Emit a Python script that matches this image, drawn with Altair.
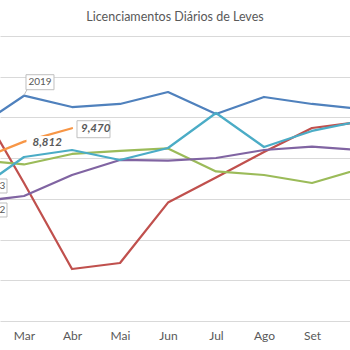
import altair as alt
import pandas as pd

FONT = "Lato"
TITLE = "Licenciamentos Diários de Leves"

month_names = ["Jan", "Fev", "Mar", "Abr", "Mai", "Jun", "Jul", "Ago", "Set", "Out", "Nov", "Dez"]
month_idx = [2, 3, 4, 5, 6, 7, 8, 9, 10]  # Fev .. Out
years = ["2019", "2020", "2021", "2022", "2023", "2024"]
colors = ["#4F81BD", "#C0504D", "#9BBB59", "#8064A2", "#4BACC6", "#F79646"]

v2019 = [9481, 11067, 10512, 10660, 11249, 10168, 11004, 10660, 10414]
v2020 = [10856, 6779, 2554, 2849, 5816, 7054, 8302, 9481, 9775]
v2021 = [7909, 7688, 8204, 8351, 8474, 7344, 7172, 6779, 7467]
v2022 = [5846, 6140, 7172, 7909, 7875, 8007, 8400, 8562, 8400]
v2023 = [6386, 8056, 8400, 7909, 8498, 10218, 8547, 9335, 9825]
v2024 = [7860, 8812, 9470]

series = [v2019, v2020, v2021, v2022, v2023, v2024]
rows = []
for yr, vals in zip(years, series):
    for m, v in zip(month_idx, vals):
        rows.append({"year": yr, "m": m, "v": v})
df = pd.DataFrame(rows)

x_scale = alt.Scale(domain=[2.5, 9.7917], nice=False, zero=False)
y_scale = alt.Scale(domain=[0, 14000], nice=False, zero=True)

label_expr = "[" + ",".join("'%s'" % s for s in month_names) + "][datum.value - 1]"

lines = alt.Chart(df).mark_line(clip=True, strokeJoin="round", strokeCap="round").encode(
    x=alt.X("m:Q", scale=x_scale,
            axis=alt.Axis(values=[3, 4, 5, 6, 7, 8, 9], labelExpr=label_expr, grid=False,
                          ticks=False, domain=False, title=None, labelFont=FONT,
                          labelFontSize=12, labelColor="#595959", labelPadding=9)),
    y=alt.Y("v:Q", scale=y_scale,
            axis=alt.Axis(values=list(range(0, 14001, 2000)), grid=True, gridColor="#D9D9D9",
                          gridWidth=1, labels=False, ticks=False, domain=False, title=None)),
    color=alt.Color("year:N", scale=alt.Scale(domain=years, range=colors), legend=None),
    strokeWidth=alt.StrokeWidth("year:N", scale=alt.Scale(domain=years, range=[2.25] * 5 + [3.25]),
                                legend=None),
)

# annotations: (year, month, value, text, box path, box stroke, align, dx, dy, size, weight, style, color)
annotations = [
    ("2019", 3, v2019[1], "2019", "M2,-21L30,-21L30,-6L2,-6Z M3,-6L0,-0.5", "#BFBFBF",
     "center", 16, -13.5, 10, "normal", "normal", "#595959"),
    ("2023", 2, v2023[0], "2023", "M1,-12L31,-12L31,2L1,2Z", "#BFBFBF",
     "right", 29.3, -5, 10, "normal", "normal", "#595959"),
    ("2022", 2, v2022[0], "2022", "M1,1L31,1L31,15L1,15Z", "#BFBFBF",
     "right", 29.3, 8, 10, "normal", "normal", "#595959"),
    ("2024", 3, v2024[1], "8,812", "M3,-5L34,-5L34,7L3,7Z", "white",
     "left", 8.5, 1, 11.5, "bold", "italic", "#595959"),
    ("2024", 4, v2024[2], "9,470", "M5,-7.5L38,-7.5L38,9.5L5,9.5Z", "#BFBFBF",
     "left", 9, 1.2, 11.5, "bold", "italic", "#595959"),
]

layers = [lines]
for yr, m, v, txt, path, bstroke, align, dx, dy, fs, fw, fst, col in annotations:
    d = pd.DataFrame({"m": [m], "v": [v], "t": [txt]})
    box = alt.Chart(d).mark_point(shape=path, size=4, filled=True, fill="white", stroke=bstroke,
                                  strokeWidth=1, opacity=1, fillOpacity=1, clip=True).encode(
        x=alt.X("m:Q", scale=x_scale), y=alt.Y("v:Q", scale=y_scale))
    text = alt.Chart(d).mark_text(align=align, baseline="middle", dx=dx, dy=dy, font=FONT,
                                  fontSize=fs, fontWeight=fw, fontStyle=fst, color=col,
                                  clip=True).encode(
        x=alt.X("m:Q", scale=x_scale), y=alt.Y("v:Q", scale=y_scale), text="t:N")
    layers += [box, text]

title = alt.Chart(pd.DataFrame({"t": [TITLE]})).mark_text(
    align="center", baseline="alphabetic", font=FONT, fontSize=12.5, color="#595959"
).encode(x=alt.value(175), y=alt.value(-15.5), text="t:N")
layers.append(title)

chart = alt.layer(*layers).properties(
    width=350, height=285,
    padding={"left": 0, "right": 0, "top": 36, "bottom": 29},
    autosize="none",
).configure_view(stroke=None)

chart.save("out.html", embed_options={"renderer": "svg", "actions": False})
